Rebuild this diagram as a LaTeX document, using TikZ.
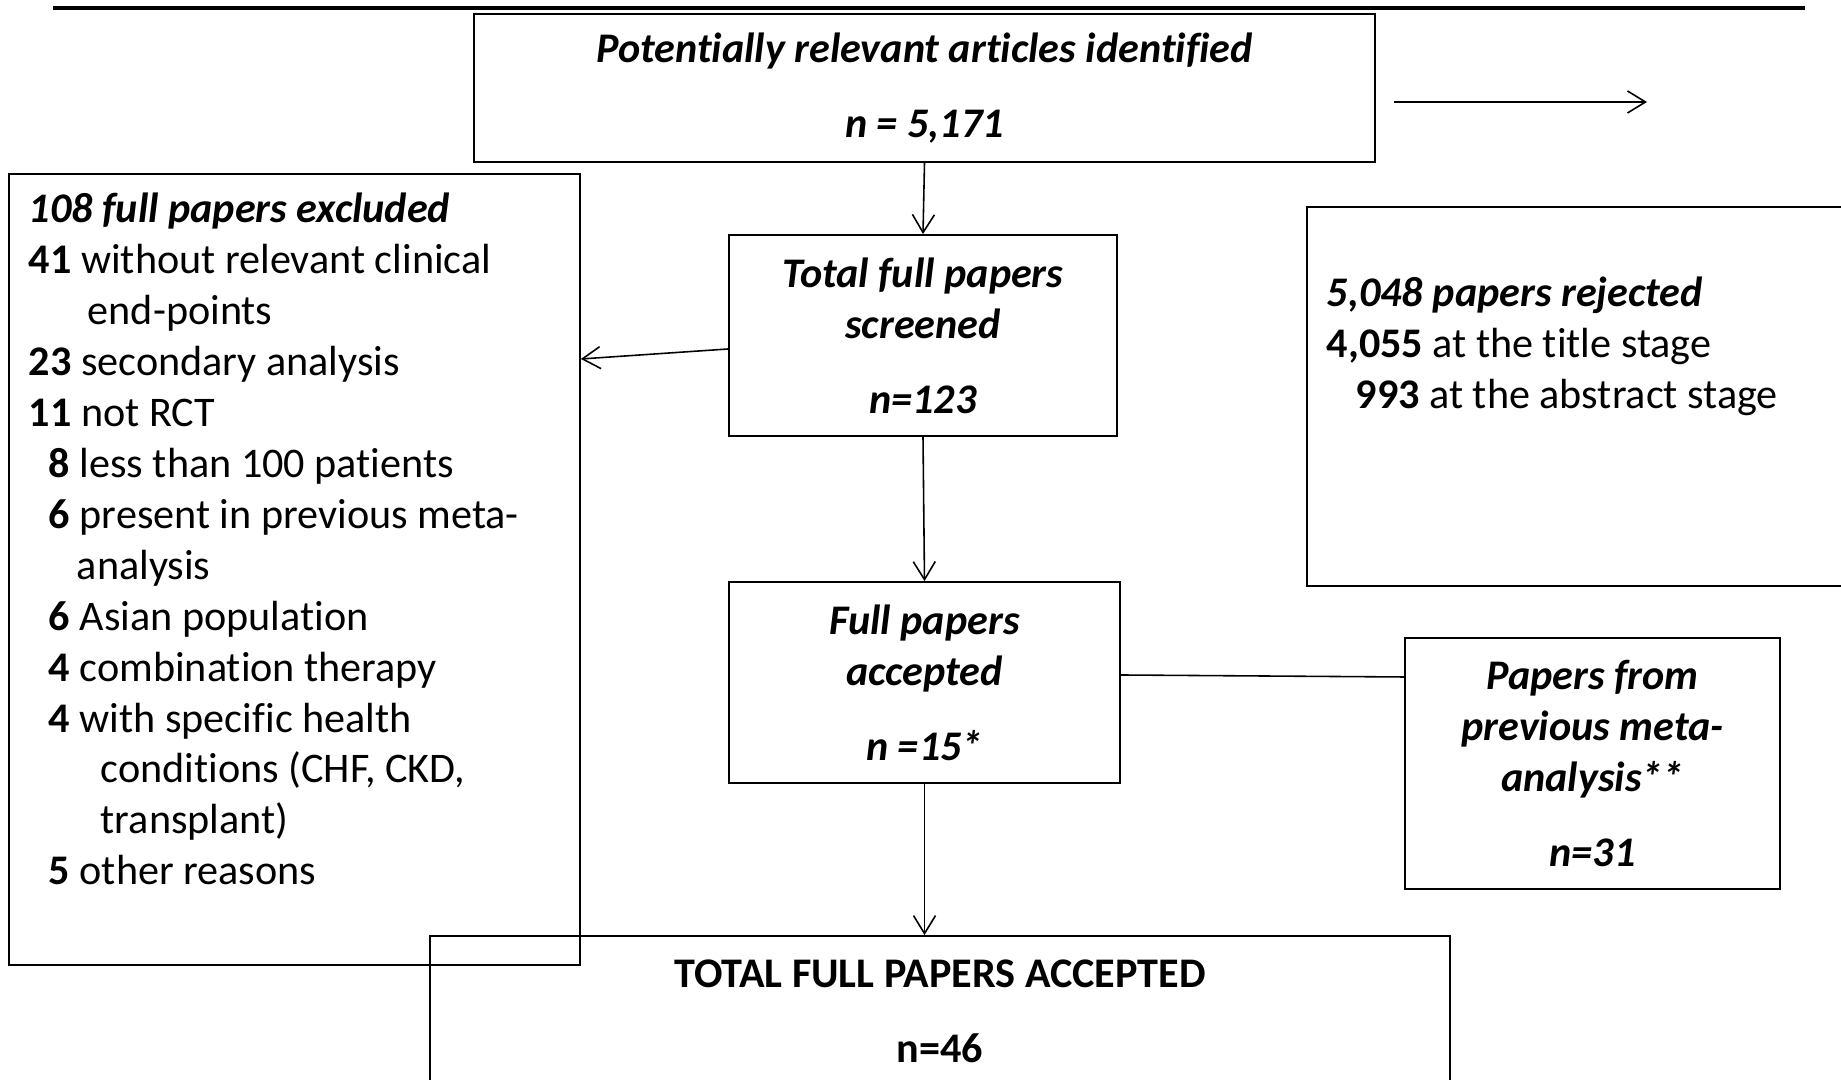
\documentclass[tikz,border=0pt]{standalone}
\usepackage{fontspec}
\setmainfont{Carlito}[Ligatures=CommonOff, RawFeature={-liga;-calt;-clig}]
\usetikzlibrary{arrows.meta,positioning,calc}

\begin{document}
\begin{tikzpicture}
  [box/.style={rectangle, draw=black, line width=0.5pt, align=center, inner sep=0pt},
  txt/.style={font=\fontsize{12}{14.5}\selectfont, inner sep=0pt},
  pfeil/.style={-{Straight Barb[length=1.8mm,width=2.2mm]}, line width=0.45pt}]
  \useasboundingbox (0,0) rectangle (18.41,10.8);
  \clip (0,0) rectangle (18.41,10.8);
  \draw[line width=1pt] (0.53,10.72) -- (18.05,10.72);
  \node (identified) [box, txt, minimum width=9.01cm, minimum height=1.48cm] at (9.245,9.92) {\textbf{\textit{Potentially relevant articles identified}}\\[2.4mm] \textbf{\textit{n = 5,171}}};
  \node (screened) [box, txt, minimum width=3.88cm, minimum height=2.01cm] at (9.23,7.445) {\textbf{\textit{Total full papers}}\\ \textbf{\textit{screened}}\\[2.4mm] \textbf{\textit{n=123}}};
  \node (accepted) [box, txt, minimum width=3.91cm, minimum height=2.01cm] at (9.245,3.975) {\textbf{\textit{Full papers}}\\ \textbf{\textit{accepted}}\\[2.4mm] \textbf{\textit{n =15*}}};
  \node (previous) [box, txt, minimum width=3.75cm, minimum height=2.51cm] at (15.925,3.165) {\textbf{\textit{Papers from}}\\ \textbf{\textit{previous meta-}}\\ \textbf{\textit{analysis**}}\\[2.4mm] \textbf{\textit{n=31}}};
  \node (total) [box, txt, minimum width=10.2cm, minimum height=1.51cm] at (9.40,0.685) {\textbf{TOTAL FULL PAPERS ACCEPTED}\\[2.4mm] \textbf{n=46}};
  \node (excluded) [box, minimum width=5.71cm, minimum height=7.91cm] at (2.945,5.105) {};
  \node (excludedText) [txt, align=left, anchor=north west] at ($(excluded.north west)+(0.20,-0.19)$)
    {\textbf{\textit{108 full papers excluded}}\\
     \textbf{41} without relevant clinical\\
     \hspace*{5.9mm}end-points\\
     \textbf{23} secondary analysis\\
     \textbf{11} not RCT\\
     \hspace*{2mm}\textbf{8} less than 100 patients\\
     \hspace*{2mm}\textbf{6} present in previous meta-\\
     \hspace*{4.8mm}analysis\\
     \hspace*{2mm}\textbf{6} Asian population\\
     \hspace*{2mm}\textbf{4} combination therapy\\
     \hspace*{2mm}\textbf{4} with specific health\\
     \hspace*{7.2mm}conditions (CHF, CKD,\\
     \hspace*{7.2mm}transplant)\\
     \hspace*{2mm}\textbf{5} other reasons};
  \node (rejected) [box, minimum width=5.53cm, minimum height=3.79cm] at (15.835,6.835) {};
  \node (rejectedText) [txt, align=left, anchor=north west] at ($(rejected.north west)+(0.20,-0.70)$)
    {\textbf{\textit{5,048 papers rejected}}\\
     \textbf{4,055} at the title stage\\
     \hspace*{2.9mm}\textbf{993} at the abstract stage};
  % arrow towards the rejected papers
  \coordinate (rejStart) at (13.94,9.78);
  \coordinate (rejEnd) at (16.47,9.78);
  \draw[pfeil] (rejStart) -- (rejEnd);
  \draw[pfeil] (identified.south) -- (screened.north);
  \draw[pfeil] ($(screened.west)+(0,-0.135)$) -- ($(excluded.east |- screened.west)+(0,-0.235)$);
  \draw[pfeil] (screened.south) -- (accepted.north);
  \draw[line width=0.45pt] ($(accepted.east)+(0,0.075)$) -- ($(previous.west |- accepted.east)+(0,0.055)$);
  \draw[pfeil] (accepted.south) -- (accepted.south |- total.north);
\end{tikzpicture}
\end{document}
